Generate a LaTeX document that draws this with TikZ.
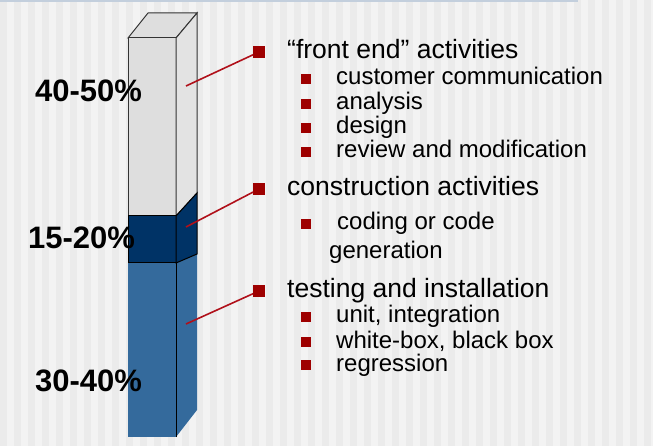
\documentclass[tikz,border=0pt]{standalone}
\usepackage{fontspec}
\setmainfont{Liberation Sans}
\usepackage{tikz}
\usetikzlibrary{calc}

\definecolor{paper}{HTML}{F3F3F3}
\definecolor{stripe}{HTML}{EBEBEB}
\definecolor{rule}{HTML}{C3CFDD}
\definecolor{barGrey}{HTML}{DEDEDE}
\definecolor{barSide}{HTML}{E3E3E3}
\definecolor{navy}{HTML}{003366}
\definecolor{steel}{HTML}{346A9C}
\definecolor{bulletRed}{HTML}{9E0000}
\definecolor{leadRed}{HTML}{B0101A}

\tikzset{
  mainitem/.style={anchor=base west, inner sep=0pt, font=\fontsize{26.5}{28}\selectfont},
  subitem/.style={anchor=base west, inner sep=0pt, font=\fontsize{24}{26}\selectfont},
  share/.style={anchor=base west, inner sep=0pt, font=\fontsize{31}{33}\selectfont\bfseries},
  bigbullet/.style={fill=bulletRed, inner sep=0pt, minimum size=11.5pt},
  smallbullet/.style={fill=bulletRed, inner sep=0pt, minimum size=9.5pt},
  leader/.style={leadRed, line width=1.6pt}
}

\begin{document}
\begin{tikzpicture}[x=1pt,y=-1pt]
    % background
    \fill[paper] (0,0) rectangle (653,446);
    \foreach \s in {0,14,...,646} {\fill[stripe] (\s,0) rectangle ({\s+7},446);}
    \useasboundingbox (0,0) rectangle (653,446);
    \draw[rule, line width=2pt] (0,1) -- (578,1);

    % the bar
    \coordinate (A) at (128,38);  \coordinate (B) at (176,38);
    \coordinate (C) at (148,13);  \coordinate (D) at (197,13);
    \filldraw[fill=barGrey, draw=black!80, line width=1pt] (A) -- (C) -- (D) -- (B) -- cycle;
    \filldraw[fill=barGrey, draw=black!80, line width=1pt] (A) rectangle (176,216);
    \filldraw[fill=barSide, draw=black!80, line width=1pt] (B) -- (D) -- (197,193) -- (176,216) -- cycle;
    \fill[steel] (128,263) rectangle (176,437);
    \fill[steel] (176,263) -- (197,254) -- (197,410) -- (176,437) -- cycle;
    \draw[black, line width=1pt] (176.5,263) -- (176.5,437);
    \filldraw[fill=navy, draw=black, line width=1pt] (128,216) rectangle (176,263);
    \filldraw[fill=navy, draw=black, line width=1pt] (176,216) -- (197,193) -- (197,254) -- (176,263) -- cycle;

    % shares
    \node[share] (p1) at (35,102) {40-50\%};
    \node[share] (p2) at (28,249) {15-20\%};
    \node[share] (p3) at (35,391) {30-40\%};

    % main items
    \node[bigbullet] (b1) at (259,52) {};
    \node[bigbullet] (b2) at (259,189) {};
    \node[bigbullet] (b3) at (259,291) {};
    \node[mainitem] (front) at (287,59) {“front end” activities};
    \node[mainitem] (constr) at (287,196) {construction activities};
    \node[mainitem] (test) at (287,298) {testing and installation};

    % leaders
    \coordinate (l1) at (186,86);
    \coordinate (l2) at (186,227);
    \coordinate (l3) at (186,324);
    \draw[leader] (l1) -- (b1);
    \draw[leader] (l2) -- (b2);
    \draw[leader] (l3) -- (b3);

    % sub items
    \foreach \y/\t [count=\i] in {85/customer communication, 110/analysis, 134/design,
        158/review and modification, 323/{unit, integration}, 348/{white-box, black box}, 371/regression} {
      \node[smallbullet] (s\i) at (306,\y-6) {};
      \node[subitem] (t\i) at (336,\y) {\t};
    }
    \node[smallbullet] (s8) at (306,224) {};
    \node[subitem] (code) at (337,230) {coding or code};
    \node[subitem] (gen) at (329,259) {generation};
\end{tikzpicture}
\end{document}
